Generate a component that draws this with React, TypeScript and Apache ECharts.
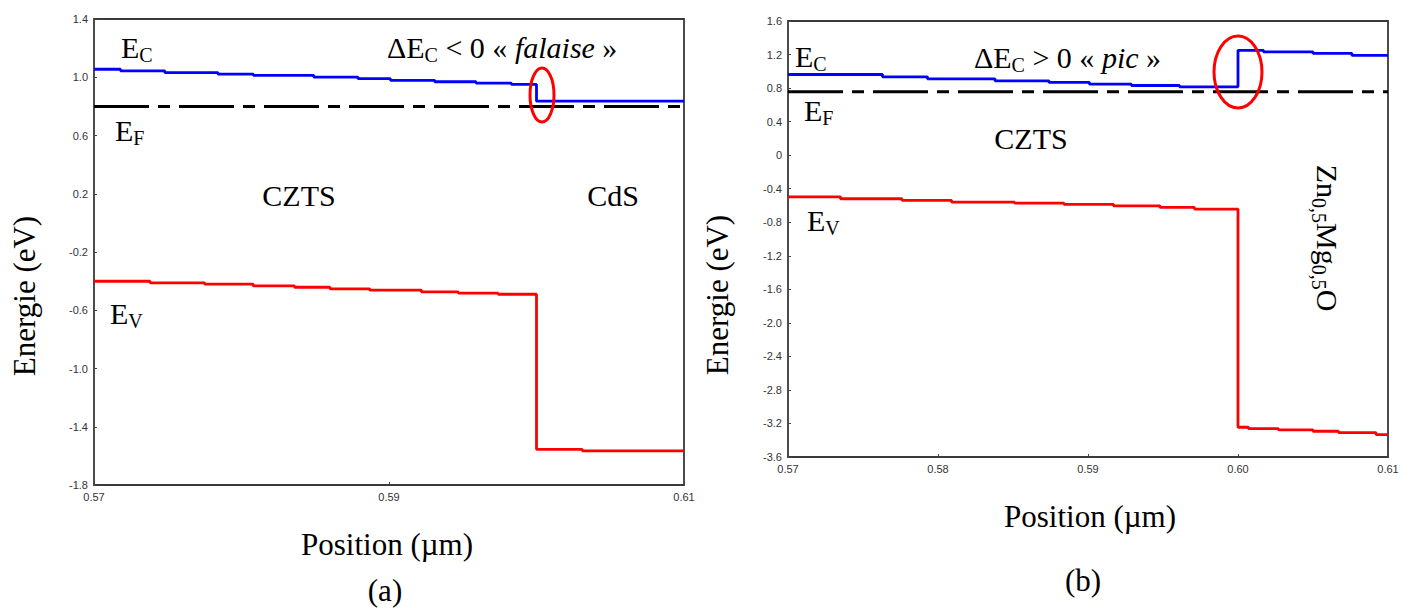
import React, { useEffect, useRef } from 'react';
import * as echarts from 'echarts';

// ---------- data (a) CZTS / CdS ----------
const leftEcX = [0.57, 0.5718, 0.5748, 0.5784, 0.5808, 0.5849, 0.5879, 0.5901, 0.5931, 0.5959, 0.5983, 0.60, 0.61];
const leftEcY = [1.055, 1.044, 1.032, 1.022, 1.013, 1.001, 0.990, 0.979, 0.969, 0.960, 0.951, 0.836, 0.836];
const leftEvX = [0.57, 0.5738, 0.5775, 0.5808, 0.5836, 0.5860, 0.5887, 0.5922, 0.5947, 0.5974, 0.60, 0.6031, 0.61];
const leftEvY = [-0.401, -0.412, -0.421, -0.433, -0.442, -0.453, -0.462, -0.474, -0.483, -0.490, -1.555, -1.565, -1.565];
const leftEfX = [0.57, 0.61];
const leftEfY = [0.80, 0.80];

// ---------- data (b) CZTS / Zn0.5Mg0.5O ----------
const rightEcX = [0.57, 0.5763, 0.5793, 0.5838, 0.5874, 0.5901, 0.5929, 0.5961, 0.60, 0.6017, 0.6050, 0.6076, 0.61];
const rightEcY = [0.962, 0.934, 0.910, 0.886, 0.867, 0.847, 0.831, 0.815, 1.250, 1.232, 1.213, 1.190, 1.190];
const rightEvX = [0.57, 0.5735, 0.5776, 0.5809, 0.5851, 0.5884, 0.5917, 0.5948, 0.5971, 0.60, 0.6007, 0.6027, 0.6050, 0.6067, 0.6092, 0.61];
const rightEvY = [-0.497, -0.520, -0.539, -0.560, -0.572, -0.587, -0.604, -0.623, -0.643, -3.245, -3.262, -3.277, -3.293, -3.309, -3.333, -3.333];
const rightEfX = [0.57, 0.61];
const rightEfY = [0.755, 0.755];

// ---------- tick labels ----------
const leftXTicks = [0.57, 0.59, 0.61];
const leftYTicks = [-1.8, -1.4, -1.0, -0.6, -0.2, 0.2, 0.6, 1.0, 1.4];
const rightXTicks = [0.57, 0.58, 0.59, 0.60, 0.61];
const rightYTicks = [-3.6, -3.2, -2.8, -2.4, -2.0, -1.6, -1.2, -0.8, -0.4, 0, 0.4, 0.8, 1.2, 1.6];

const zip = (xs: number[], ys: number[]) => xs.map((x, i) => [x, ys[i]]);

const SERIF = "'Liberation Serif', 'Times New Roman', serif";
const SANS = "'Liberation Sans', Arial, sans-serif";

const rich = {
  b: { fontSize: 30, fontFamily: SERIF, lineHeight: 36, color: '#000' },
  t: { fontSize: 31, fontFamily: SERIF, lineHeight: 36, color: '#000' },
  s: { fontSize: 20, fontFamily: SERIF, lineHeight: 20, color: '#000', verticalAlign: 'bottom' },
  i: { fontSize: 30, fontFamily: SERIF, lineHeight: 36, color: '#000', fontStyle: 'italic' },
};

function label(text: string, x: number, y: number, align = 'left', rotation = 0) {
  return {
    type: 'text',
    x,
    y,
    rotation,
    z: 100,
    style: {
      text,
      rich,
      align,
      verticalAlign: 'middle',
      fontSize: 30,
      fontFamily: SERIF,
      fill: '#000',
    },
  };
}

function plain(text: string, x: number, y: number, size: number, rotation = 0) {
  return label(`{${size === 31 ? 't' : 'b'}|${text}}`, x, y, 'center', rotation);
}

function xAxisCfg(gridIndex: number, ticks: number[]) {
  return {
    type: 'value',
    gridIndex,
    min: 0.57,
    max: 0.61,
    axisLine: { show: false, onZero: false },
    splitLine: { show: false },
    axisTick: { show: true, inside: true, length: 3, customValues: ticks, lineStyle: { color: '#444' } },
    axisLabel: {
      customValues: ticks,
      formatter: (v: number) => v.toFixed(2),
      fontSize: 11,
      fontFamily: SANS,
      color: '#333',
      margin: 6,
    },
  };
}

function yAxisCfg(gridIndex: number, ticks: number[], min: number, max: number) {
  return {
    type: 'value',
    gridIndex,
    min,
    max,
    axisLine: { show: false, onZero: false },
    splitLine: { show: false },
    axisTick: { show: true, inside: true, length: 3, customValues: ticks, lineStyle: { color: '#444' } },
    axisLabel: {
      customValues: ticks,
      formatter: (v: number) => (Math.abs(v) < 1e-9 ? '0' : v.toFixed(1)),
      fontSize: 11,
      fontFamily: SANS,
      color: '#333',
      margin: 6,
    },
  };
}

function lineSeries(name: string, idx: number, data: number[][], color: string, dashed = false) {
  return {
    name,
    type: 'line',
    xAxisIndex: idx,
    yAxisIndex: idx,
    data,
    step: dashed ? undefined : 'end',
    symbol: 'none',
    lineStyle: dashed
      ? { color: '#000', width: 3, type: [55, 9, 12, 9] }
      : { color, width: 2.8 },
    z: 3,
  };
}

export default function App() {
  const ref = useRef<HTMLDivElement>(null);
  useEffect(() => {
    if (!ref.current) return;
    const chart = echarts.init(ref.current, undefined, { renderer: 'svg' });
    const option: any = {
      animation: false,
      backgroundColor: '#fff',
      grid: [
        { left: 94, top: 19, width: 590, height: 466, show: true, borderColor: '#3a3a3a', borderWidth: 1.8, backgroundColor: 'transparent' },
        { left: 788, top: 21, width: 600, height: 436, show: true, borderColor: '#3a3a3a', borderWidth: 1.8, backgroundColor: 'transparent' },
      ],
      xAxis: [xAxisCfg(0, leftXTicks), xAxisCfg(1, rightXTicks)],
      yAxis: [yAxisCfg(0, leftYTicks, -1.8, 1.4), yAxisCfg(1, rightYTicks, -3.6, 1.6)],
      series: [
        lineSeries('EF (a)', 0, zip(leftEfX, leftEfY), '#000', true),
        lineSeries('EC (a)', 0, zip(leftEcX, leftEcY), '#0000ff'),
        lineSeries('EV (a)', 0, zip(leftEvX, leftEvY), '#ff0000'),
        lineSeries('EF (b)', 1, zip(rightEfX, rightEfY), '#000', true),
        lineSeries('EC (b)', 1, zip(rightEcX, rightEcY), '#0000ff'),
        lineSeries('EV (b)', 1, zip(rightEvX, rightEvY), '#ff0000'),
      ],
      graphic: [
        // (a)
        label('{b|E}{s|C}', 121, 47),
        label('{b|ΔE}{s|C}{b| < 0 « }{i|falaise}{b| »}', 387, 47),
        label('{b|E}{s|F}', 115, 130),
        label('{b|E}{s|V}', 110, 313),
        plain('CZTS', 299, 195, 30),
        plain('CdS', 613, 195, 30),
        plain('Energie (eV)', 24, 296, 31, Math.PI / 2),
        plain('Position (µm)', 387, 544, 31),
        plain('(a)', 385, 590, 31),
        { type: 'ellipse', z: 101, shape: { cx: 542, cy: 95, rx: 12, ry: 27 }, style: { fill: 'none', stroke: '#ff0000', lineWidth: 3 } },
        // (b)
        label('{b|E}{s|C}', 795, 56),
        label('{b|ΔE}{s|C}{b| > 0 « }{i|pic}{b| »}', 974, 57),
        label('{b|E}{s|F}', 804, 110),
        label('{b|E}{s|V}', 807, 220),
        plain('CZTS', 1031, 138, 30),
        label('{b|Zn}{s|0,5}{b|Mg}{s|0,5}{b|O}', 1327, 238, 'center', -Math.PI / 2),
        plain('Energie (eV)', 717, 295, 31, Math.PI / 2),
        plain('Position (µm)', 1090, 516, 31),
        plain('(b)', 1083, 580, 31),
        { type: 'ellipse', z: 101, shape: { cx: 1238, cy: 72, rx: 24, ry: 36 }, style: { fill: 'none', stroke: '#ff0000', lineWidth: 3 } },
      ],
    };
    chart.setOption(option);
    return () => chart.dispose();
  }, []);
  return <div ref={ref} style={{ position: 'absolute', left: 0, top: 0, width: 1414, height: 608 }} />;
}
